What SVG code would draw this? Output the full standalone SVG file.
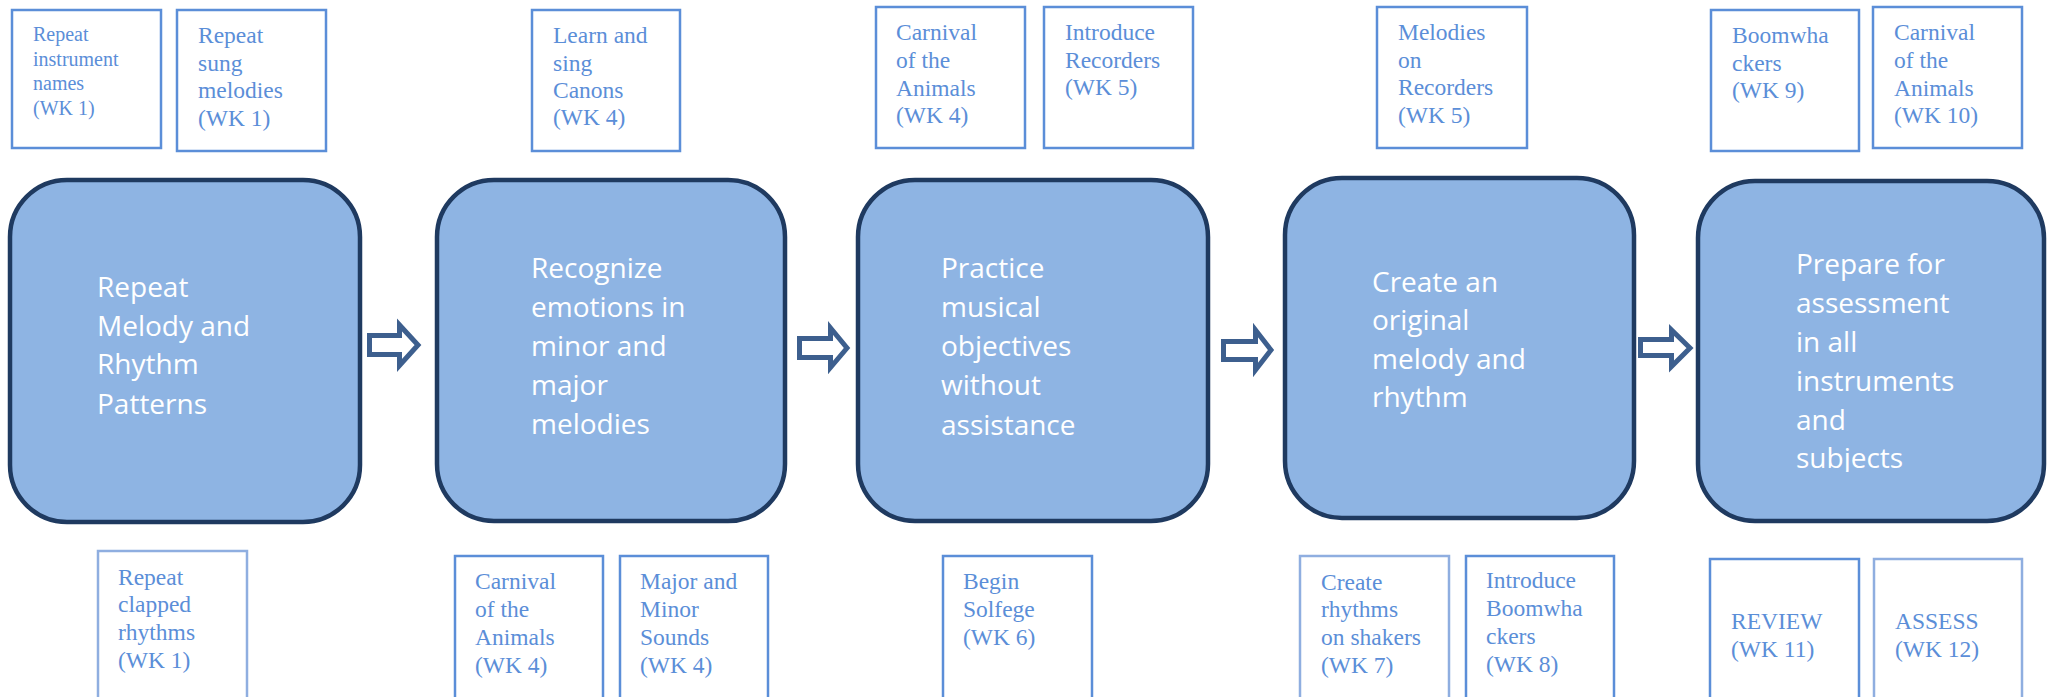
<svg xmlns="http://www.w3.org/2000/svg" width="2049" height="697" viewBox="0 0 2049 697">
<style>
.sb{fill:#fff;stroke:#5B8ED8;stroke-width:2.5}
.sbl{fill:#fff;stroke:#8FAEE0;stroke-width:2.5}
.st{font-family:"Liberation Serif","Times New Roman",serif;font-size:23.5px;fill:#5B8ED8}
.sts{font-family:"Liberation Serif","Times New Roman",serif;font-size:20px;fill:#5B8ED8}
.mb{fill:#8EB4E3;stroke:#1F3A60;stroke-width:4.5}
.mt{font-family:"Open Sans","Noto Sans",sans-serif;font-size:28px;fill:#fff}
.ar{fill:#fff;stroke:#3D5F8E;stroke-width:5;stroke-linejoin:miter;stroke-miterlimit:10}
</style>
<defs>
<clipPath id="c5"><rect x="1698" y="181" width="346" height="291"/></clipPath>
</defs>
<rect width="2049" height="697" fill="#fff"/>

<g id="connectors">
<path class="ar" d="M369.5,335.5 H399.5 V325 L418,345 L399.5,365.5 V354.5 H369.5 Z"/>
<path class="ar" d="M799.5,338.5 H830.5 V328 L847,348 L830.5,367.5 V357.5 H799.5 Z"/>
<path class="ar" d="M1223.5,341.5 H1255.5 V330 L1271,350 L1255.5,370 V359.5 H1223.5 Z"/>
<path class="ar" d="M1640.5,339.5 H1671.5 V330 L1690,348 L1671.5,366.5 V355.5 H1640.5 Z"/>
</g>

<g id="stage1">
<rect class="mb" x="10" y="180" width="350" height="342" rx="57" ry="57"/>
<text class="mt"><tspan x="97" y="297">Repeat</tspan><tspan x="97" y="336">Melody and</tspan><tspan x="97" y="374">Rhythm</tspan><tspan x="97" y="414">Patterns</tspan></text>
</g>
<g id="stage2">
<rect class="mb" x="437" y="180" width="348" height="341" rx="57" ry="57"/>
<text class="mt"><tspan x="531" y="278">Recognize</tspan><tspan x="531" y="317">emotions in</tspan><tspan x="531" y="356">minor and</tspan><tspan x="531" y="395">major</tspan><tspan x="531" y="434">melodies</tspan></text>
</g>
<g id="stage3">
<rect class="mb" x="858" y="180" width="350" height="341" rx="57" ry="57"/>
<text class="mt"><tspan x="941" y="278">Practice</tspan><tspan x="941" y="317">musical</tspan><tspan x="941" y="356">objectives</tspan><tspan x="941" y="395">without</tspan><tspan x="941" y="435">assistance</tspan></text>
</g>
<g id="stage4">
<rect class="mb" x="1285" y="178" width="349" height="340" rx="57" ry="57"/>
<text class="mt"><tspan x="1372" y="292">Create an</tspan><tspan x="1372" y="330">original</tspan><tspan x="1372" y="369">melody and</tspan><tspan x="1372" y="407">rhythm</tspan></text>
</g>
<g id="stage5">
<rect class="mb" x="1698" y="181" width="346" height="340" rx="57" ry="57"/>
<text class="mt" clip-path="url(#c5)"><tspan x="1796" y="274">Prepare for</tspan><tspan x="1796" y="313">assessment</tspan><tspan x="1796" y="352">in all</tspan><tspan x="1796" y="391">instruments</tspan><tspan x="1796" y="430">and</tspan><tspan x="1796" y="468">subjects</tspan></text>
</g>

<g id="top-a">
<rect class="sb" x="12" y="10" width="149" height="138"/>
<text class="sts"><tspan x="33" y="41">Repeat</tspan><tspan x="33" y="66">instrument</tspan><tspan x="33" y="90">names</tspan><tspan x="33" y="115">(WK 1)</tspan></text>
</g>
<g id="top-b">
<rect class="sb" x="177" y="10" width="149" height="141"/>
<text class="st"><tspan x="198" y="43">Repeat</tspan><tspan x="198" y="71">sung</tspan><tspan x="198" y="98">melodies</tspan><tspan x="198" y="126">(WK 1)</tspan></text>
</g>
<g id="top-c">
<rect class="sb" x="532" y="10" width="148" height="141"/>
<text class="st"><tspan x="553" y="43">Learn and</tspan><tspan x="553" y="71">sing</tspan><tspan x="553" y="98">Canons</tspan><tspan x="553" y="125">(WK 4)</tspan></text>
</g>
<g id="top-d">
<rect class="sb" x="876" y="7" width="149" height="141"/>
<text class="st"><tspan x="896" y="40">Carnival</tspan><tspan x="896" y="68">of the</tspan><tspan x="896" y="96">Animals</tspan><tspan x="896" y="123">(WK 4)</tspan></text>
</g>
<g id="top-e">
<rect class="sb" x="1044" y="7" width="149" height="141"/>
<text class="st"><tspan x="1065" y="40">Introduce</tspan><tspan x="1065" y="68">Recorders</tspan><tspan x="1065" y="95">(WK 5)</tspan></text>
</g>
<g id="top-f">
<rect class="sb" x="1377" y="7" width="150" height="141"/>
<text class="st"><tspan x="1398" y="40">Melodies</tspan><tspan x="1398" y="68">on</tspan><tspan x="1398" y="95">Recorders</tspan><tspan x="1398" y="123">(WK 5)</tspan></text>
</g>
<g id="top-g">
<rect class="sb" x="1711" y="10" width="148" height="141"/>
<text class="st"><tspan x="1732" y="43">Boomwha</tspan><tspan x="1732" y="71">ckers</tspan><tspan x="1732" y="98">(WK 9)</tspan></text>
</g>
<g id="top-h">
<rect class="sb" x="1873" y="7" width="149" height="141"/>
<text class="st"><tspan x="1894" y="40">Carnival</tspan><tspan x="1894" y="68">of the</tspan><tspan x="1894" y="96">Animals</tspan><tspan x="1894" y="123">(WK 10)</tspan></text>
</g>

<g id="bot-i">
<rect class="sbl" x="98" y="551" width="149" height="160"/>
<text class="st"><tspan x="118" y="585">Repeat</tspan><tspan x="118" y="612">clapped</tspan><tspan x="118" y="640">rhythms</tspan><tspan x="118" y="668">(WK 1)</tspan></text>
</g>
<g id="bot-j">
<rect class="sb" x="455" y="556" width="148" height="155"/>
<text class="st"><tspan x="475" y="589">Carnival</tspan><tspan x="475" y="617">of the</tspan><tspan x="475" y="645">Animals</tspan><tspan x="475" y="673">(WK 4)</tspan></text>
</g>
<g id="bot-k">
<rect class="sb" x="620" y="556" width="148" height="155"/>
<text class="st"><tspan x="640" y="589">Major and</tspan><tspan x="640" y="617">Minor</tspan><tspan x="640" y="645">Sounds</tspan><tspan x="640" y="673">(WK 4)</tspan></text>
</g>
<g id="bot-l">
<rect class="sb" x="943" y="556" width="149" height="155"/>
<text class="st"><tspan x="963" y="589">Begin</tspan><tspan x="963" y="617">Solfege</tspan><tspan x="963" y="645">(WK 6)</tspan></text>
</g>
<g id="bot-m">
<rect class="sbl" x="1300" y="556" width="149" height="155"/>
<text class="st"><tspan x="1321" y="590">Create</tspan><tspan x="1321" y="617">rhythms</tspan><tspan x="1321" y="645">on shakers</tspan><tspan x="1321" y="673">(WK 7)</tspan></text>
</g>
<g id="bot-n">
<rect class="sb" x="1466" y="556" width="148" height="155"/>
<text class="st"><tspan x="1486" y="588">Introduce</tspan><tspan x="1486" y="616">Boomwha</tspan><tspan x="1486" y="644">ckers</tspan><tspan x="1486" y="672">(WK 8)</tspan></text>
</g>
<g id="bot-o">
<rect class="sb" x="1710" y="559" width="149" height="152"/>
<text class="st"><tspan x="1731" y="629">REVIEW</tspan><tspan x="1731" y="657">(WK 11)</tspan></text>
</g>
<g id="bot-p">
<rect class="sbl" x="1874" y="559" width="148" height="152"/>
<text class="st"><tspan x="1895" y="629">ASSESS</tspan><tspan x="1895" y="657">(WK 12)</tspan></text>
</g>
</svg>
